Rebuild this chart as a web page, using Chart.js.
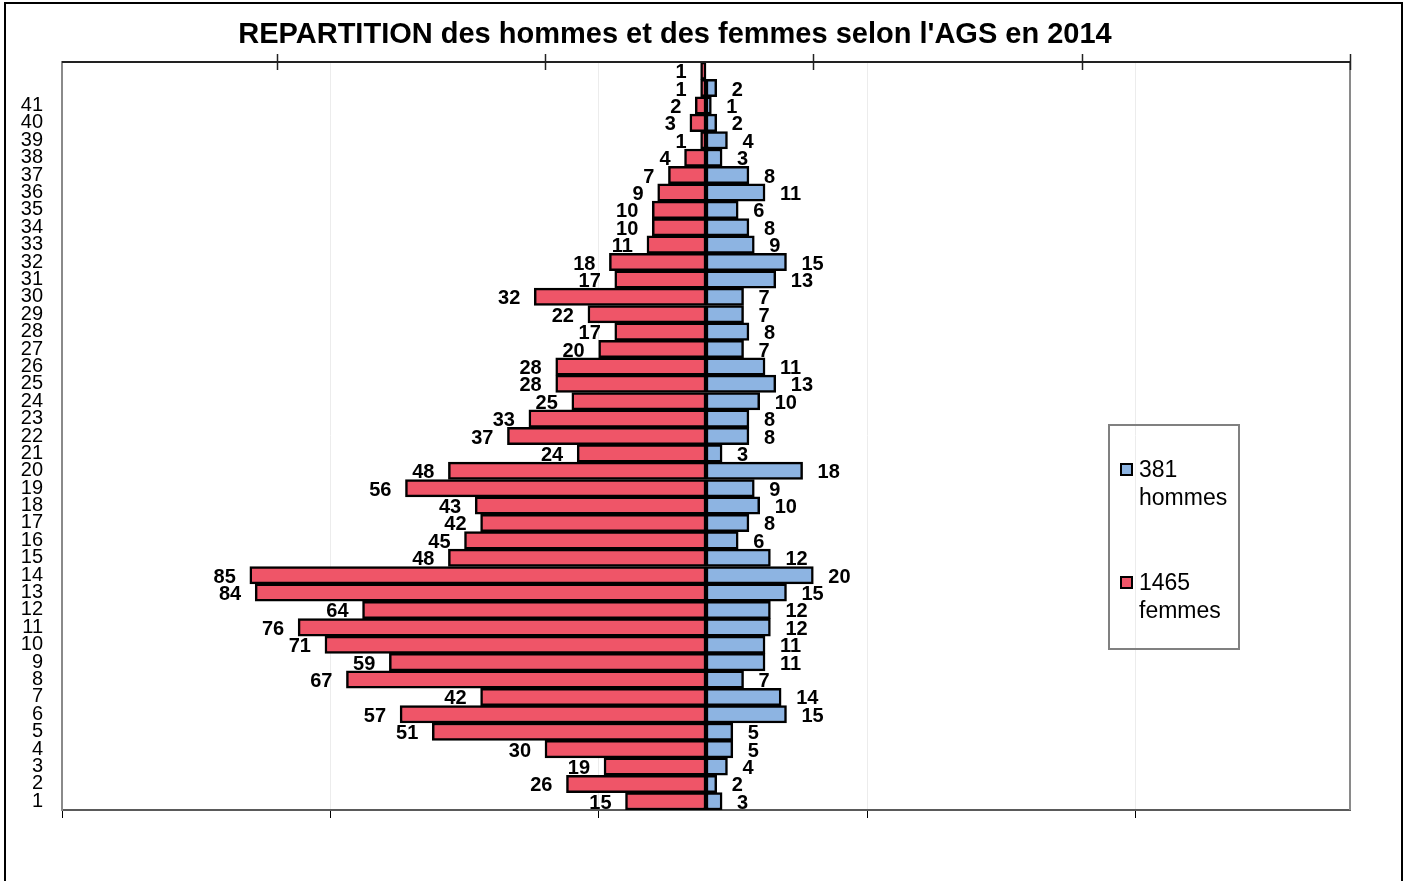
<!DOCTYPE html>
<html>
<head>
<meta charset="utf-8">
<script src="https://cdn.jsdelivr.net/npm/chart.js@4.4.1/dist/chart.umd.min.js"></script>
<style>
  body { margin: 0; background: #fff; }
  #wrap { position: relative; width: 1409px; height: 881px; overflow: hidden; }
  #legende {
    position: absolute; left: 1108px; top: 424px; width: 128px; height: 222px;
    border: 2px solid #808080; font-family: "Liberation Sans", Arial, sans-serif;
    font-size: 23px; line-height: 28px; color: #000;
  }
  .item { position: absolute; left: 10px; }
  .carre { position: absolute; left: 0; top: 8px; width: 9px; height: 9px; border: 2px solid #000; }
  .txt { position: absolute; left: 19px; white-space: nowrap; }
</style>
</head>
<body>
<div id="wrap">
  <canvas id="chart" width="1409" height="881"></canvas>
  <div id="legende">
    <div class="item" style="top:29px"><div class="carre" style="background:#8db4e2"></div><div class="txt">381<br>hommes</div></div>
    <div class="item" style="top:142px"><div class="carre" style="background:#ef5568"></div><div class="txt">1465<br>femmes</div></div>
  </div>
</div>
<script>
// anciennete (AGS) de 1 a 43 ans, du bas vers le haut
const ags = [];
for (let i = 1; i <= 43; i++) ags.push(String(i));

const femmes = [15, 26, 19, 30, 51, 57, 42, 67, 59, 71, 76, 64, 84, 85, 48, 45, 42, 43, 56, 48,
  24, 37, 33, 25, 28, 28, 20, 17, 22, 32, 17, 18, 11, 10, 10, 9, 7, 4, 1, 3, 2, 1, 1];
const hommes = [3, 2, 4, 5, 5, 15, 14, 7, 11, 11, 12, 12, 15, 20, 12, 6, 8, 10, 9, 18,
  3, 8, 8, 10, 13, 11, 7, 8, 7, 7, 13, 15, 9, 8, 6, 11, 8, 3, 4, 2, 1, 2, 0];

const ticksBas = [-120, -70, -20, 30, 80];
const ticksHaut = [-80, -30, 20, 70, 120];
const titre = "REPARTITION des hommes et des femmes selon l'AGS en 2014";

// cadre, titre, axe du haut et etiquettes
const decor = {
  id: 'decor',
  afterDraw(chart) {
    const ctx = chart.ctx;
    const a = chart.chartArea;
    const x = chart.scales.x;
    ctx.save();
    // cadre exterieur
    ctx.strokeStyle = '#000';
    ctx.lineWidth = 2;
    ctx.strokeRect(5, 3, 1397, 900);
    // titre
    ctx.fillStyle = '#000';
    ctx.font = 'bold 29px "Liberation Sans", Arial, sans-serif';
    ctx.textAlign = 'center';
    ctx.textBaseline = 'middle';
    ctx.fillText(titre, 675, 35);
    // bord droit et ligne du haut
    ctx.strokeStyle = '#8a8a8a';
    ctx.beginPath();
    ctx.moveTo(a.right, a.top);
    ctx.lineTo(a.right, a.bottom);
    ctx.stroke();
    ctx.strokeStyle = '#222';
    ctx.beginPath();
    ctx.moveTo(a.left, a.top);
    ctx.lineTo(a.right, a.top);
    ctx.stroke();
    ctx.lineWidth = 1.5;
    ticksHaut.forEach(v => {
      const px = Math.round(x.getPixelForValue(v)) + 0.5;
      ctx.beginPath();
      ctx.moveTo(px, a.top - 8);
      ctx.lineTo(px, a.top + 8);
      ctx.stroke();
    });
    // valeurs
    ctx.font = 'bold 20px "Liberation Sans", Arial, sans-serif';
    ctx.fillStyle = '#000';
    ctx.textBaseline = 'middle';
    chart.data.datasets.forEach((ds, di) => {
      chart.getDatasetMeta(di).data.forEach((bar, i) => {
        const v = Math.abs(ds.data[i]);
        if (!v) return;
        if (ds.data[i] < 0) {
          ctx.textAlign = 'right';
          ctx.fillText(v, bar.x - 14, bar.y + 2);
        } else {
          ctx.textAlign = 'left';
          ctx.fillText(v, bar.x + 15, bar.y + 2);
        }
      });
    });
    ctx.restore();
  }
};

new Chart(document.getElementById('chart'), {
  type: 'bar',
  data: {
    labels: ags,
    datasets: [
      {
        label: 'femmes',
        data: femmes.map(v => -v),
        backgroundColor: '#ef5568',
        borderColor: '#000',
        borderWidth: 2.5,
        borderSkipped: false
      },
      {
        label: 'hommes',
        data: hommes,
        backgroundColor: '#8db4e2',
        borderColor: '#000',
        borderWidth: 2.5,
        borderSkipped: false
      }
    ]
  },
  options: {
    indexAxis: 'y',
    responsive: false,
    animation: false,
    barPercentage: 1,
    categoryPercentage: 1,
    layout: { padding: { left: 0, right: 59, top: 62, bottom: 0 } },
    plugins: {
      legend: { display: false },
      tooltip: { enabled: false }
    },
    scales: {
      x: {
        stacked: true,
        min: -120,
        max: 120,
        afterBuildTicks: s => { s.ticks = ticksBas.map(v => ({ value: v })); },
        afterFit: s => { s.height = 71; },
        ticks: { display: false },
        grid: { color: '#ececec', tickColor: '#000', tickLength: 8, lineWidth: 1 },
        border: { color: '#5a5a5a', width: 2 }
      },
      y: {
        stacked: true,
        reverse: true,
        afterFit: s => { s.width = 62; },
        ticks: {
          autoSkip: false,
          padding: 19,
          color: '#000',
          font: { family: '"Liberation Sans", Arial, sans-serif', size: 20 },
          callback: (v, i) => (i < 41 ? ags[i] : '')
        },
        grid: { display: false, drawTicks: false },
        border: { color: '#8a8a8a', width: 2 }
      }
    }
  },
  plugins: [decor]
});
</script>
</body>
</html>
